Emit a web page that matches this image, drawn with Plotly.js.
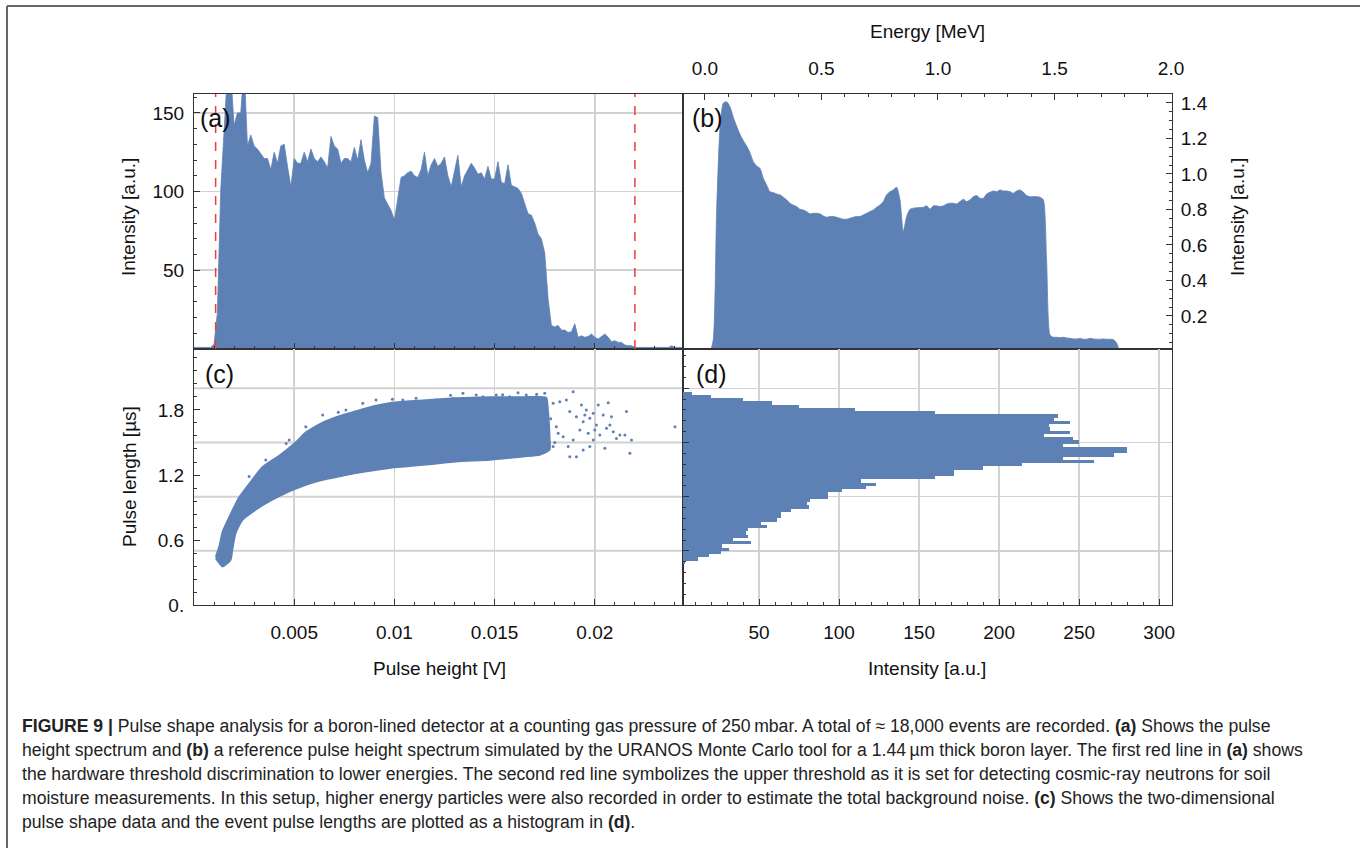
<!DOCTYPE html>
<html>
<head>
<meta charset="utf-8">
<script src="https://cdn.plot.ly/plotly-3.0.1.min.js"></script>
<style>html,body{margin:0;padding:0;background:#fff;}#chart{width:1360px;height:848px;}</style>
</head>
<body>
<div id="chart"></div>
<script>
// ---------- Panel (a): measured pulse height spectrum (uniform bins, x0/dx) ----------
const pulseHeightStart = 0;          // V
const pulseHeightStep = 0.00016667;  // V per bin
const spectrumA = [
  1,1,1,1,1,1,3,23,101,134,175,175,142,150,150,180,129,136,129,127,124,121,121,114,125,118,129,130,116,103,
  121,118,118,125,119,127,121,119,122,119,115,135,129,127,118,121,121,119,128,120,133,120,112,118,148,147,112,96,92,88,
  82,97,109,110,112,113,110,109,114,125,110,117,121,116,118,122,110,103,112,123,103,110,114,118,115,111,112,108,116,108,
  108,119,106,105,117,104,103,102,99,93,86,85,80,73,70,61,32,15,14,15,12,12,10.5,11,16,7.4,8.4,7.4,8,9.5,
  7.4,6.3,8,9.5,7.4,4.6,5.3,4.2,4.2,2.5,2.1,2.1,1,1,1,1,1,1,1,1,1,1,1,2,1,1,1
];
const thresholds = [0.00108, 0.022];

// ---------- Panel (b): simulated spectrum vs energy (uniform bins, x0/dx) ----------
const energyStart = -0.093;   // MeV
const energyStep = 0.014306;  // MeV per bin
const spectrumB = [
  0,0,0,0,0,0,0,0,0,0.065,0.778,1.248,1.398,1.406,1.379,1.319,1.270,1.223,1.188,1.158,
  1.120,1.069,1.045,1.032,0.976,0.938,0.900,0.895,0.887,0.882,0.869,0.854,0.835,0.824,0.816,0.801,0.797,0.788,0.775,0.778,
  0.778,0.775,0.763,0.756,0.760,0.760,0.756,0.750,0.745,0.745,0.750,0.756,0.760,0.760,0.769,0.778,0.788,0.797,0.812,0.825,
  0.844,0.882,0.900,0.910,0.925,0.854,0.675,0.760,0.801,0.807,0.809,0.811,0.812,0.820,0.801,0.820,0.820,0.816,0.820,0.831,
  0.835,0.835,0.831,0.844,0.857,0.844,0.854,0.872,0.878,0.863,0.863,0.887,0.897,0.904,0.900,0.910,0.904,0.904,0.900,0.891,
  0.904,0.910,0.897,0.878,0.872,0.872,0.872,0.869,0.854,0.497,0.093,0.080,0.080,0.078,0.080,0.076,0.074,0.071,0.071,0.073,
  0.069,0.069,0.074,0.071,0.069,0.069,0.071,0.069,0.069,0.067,0.047,0,0,0,0,0,0,0,0,0,
  0,0,0,0,0,0,0,0
];

// ---------- Panel (c): pulse shape cloud (envelope of the dense core + sparse events) ----------
const coreLowerX = [0.00108,0.00142,0.00183,0.00192,0.00208,0.00242,0.00308,0.00375,0.00475,0.00558,0.00642,0.00725,0.00808,0.00975,0.01142,0.01308,0.01475,0.01642,0.01725,0.01775];
const coreLowerY = [0.43,0.354,0.415,0.508,0.66,0.785,0.877,0.954,1.046,1.108,1.154,1.185,1.215,1.262,1.292,1.323,1.338,1.369,1.385,1.431];
const coreUpperX = [0.01775,0.01767,0.01758,0.01642,0.01475,0.01308,0.01142,0.01058,0.00975,0.00892,0.00808,0.00725,0.00642,0.00558,0.00508,0.00425,0.00342,0.00275,0.00225,0.00175,0.00142,0.00125,0.00108];
const coreUpperY = [1.554,1.80,1.915,1.92,1.92,1.91,1.89,1.88,1.865,1.835,1.79,1.745,1.685,1.595,1.505,1.38,1.275,1.12,0.995,0.812,0.676,0.538,0.446];
const sparseX = [0.01792,0.01825,0.01858,0.01892,0.01933,0.01958,0.01992,0.02017,0.02067,0.02042,0.01875,0.01908,0.01942,0.01975,0.02008,0.02075,0.02092,0.02108,0.02158,0.0215,0.02183,0.02175,0.0205,0.01992,0.01942,0.01908,0.01875,0.01808,0.01842,0.01892,0.01925,0.01967,0.02025,0.02058,0.024,0.01792,0.01817,0.01867,0.02,0.01975,0.02125,0.02083,0.0195,
  0.00842,0.00908,0.01042,0.01108,0.01208,0.01292,0.01342,0.01408,0.01442,0.01508,0.01575,0.01617,0.01658,0.01708,0.0175,0.00642,0.00758,0.00558,0.00475,0.00275,0.00358,
  0.0046,0.0072,0.0099,0.0128,0.0154,0.0171,0.0178,0.0180];
const sparseY = [1.862,1.877,1.892,1.969,1.846,1.80,1.769,1.846,1.868,1.754,1.785,1.738,1.692,1.723,1.662,1.662,1.60,1.538,1.785,1.569,1.523,1.40,1.446,1.523,1.431,1.369,1.369,1.646,1.554,1.523,1.615,1.585,1.569,1.631,1.646,1.462,1.585,1.462,1.615,1.462,1.569,1.738,1.754,
  1.862,1.892,1.892,1.908,1.892,1.908,1.954,1.938,1.923,1.938,1.923,1.960,1.938,1.923,1.954,1.754,1.80,1.646,1.523,1.185,1.338,
  1.49,1.78,1.90,1.935,1.94,1.945,1.72,1.50];

// ---------- Panel (d): pulse length histogram ----------
const lengthBins = [0.395,0.425,0.455,0.485,0.515,0.545,0.575,0.605,0.635,0.665,0.695,0.725,0.755,0.785,0.815,0.845,0.875,0.905,0.935,0.965,0.995,1.025,1.055,1.085,1.115,1.145,1.175,1.205,1.235,1.265,1.295,1.325,1.355,1.385,1.415,1.445,1.475,1.505,1.535,1.565,1.595,1.625,1.655,1.685,1.715,1.745,1.775,1.805,1.835,1.865,1.895,1.925,1.955];
const lengthCounts = [4,12,19,26,31,27,45,34,43,42,43,55,51,61,64,64,70,81,80,82,93,93,102,117,123,114,160,172,172,190,214,259,240,272,280,280,240,250,246,228,244,232,231,244,234,237,160,110,75,58,40,20,8];
const lengthBinWidth = 0.03;

const BLUE = '#5E81B5';
const GRID = '#d2d2d2';
const FRAME = '#333333';
const FONT = 'Liberation Sans, Arial, sans-serif';

// envelope polygon
const coreX = coreLowerX.concat(coreUpperX);
const coreY = coreLowerY.concat(coreUpperY);

const traces = [
  {type:'scatter', mode:'lines', x0:pulseHeightStart, dx:pulseHeightStep, y:spectrumA, xaxis:'x', yaxis:'y',
   fill:'tozeroy', fillcolor:BLUE, line:{color:BLUE, width:0.8}, hoverinfo:'skip'},
  {type:'scatter', mode:'lines', x0:energyStart, dx:energyStep, y:spectrumB, xaxis:'x2', yaxis:'y2',
   fill:'tozeroy', fillcolor:BLUE, line:{color:BLUE, width:0.8, shape:'spline', smoothing:0.6}, hoverinfo:'skip'},
  {type:'scatter', mode:'lines', x:coreX, y:coreY, xaxis:'x3', yaxis:'y3',
   fill:'toself', fillcolor:BLUE, line:{color:BLUE, width:1.5, shape:'spline', smoothing:0.5}, hoverinfo:'skip'},
  {type:'scatter', mode:'markers', x:sparseX, y:sparseY, xaxis:'x3', yaxis:'y3',
   marker:{color:BLUE, size:3}, hoverinfo:'skip'},
  {type:'bar', orientation:'h', y:lengthBins, x:lengthCounts, width:lengthBinWidth, xaxis:'x4', yaxis:'y4',
   marker:{color:BLUE, line:{width:0}}, hoverinfo:'skip'}
];

const L = 194/1360, M = 683/1360, R = 1172/1360;
const T = 1-94/848, MID = 1-349/848, B = 1-605/848;

function axBase(extra){
  return Object.assign({
    showline:true, mirror:true, linecolor:FRAME, linewidth:1,
    ticks:'inside', ticklen:6, tickcolor:FRAME, tickwidth:1,
    zeroline:false, gridcolor:GRID, gridwidth:1.6,
    tickfont:{family:FONT, size:19, color:'#111'},
    fixedrange:true
  }, extra);
}

const gridC = [0.5,1.0,1.5,2.0].map(v => ({type:'line', xref:'x3 domain', yref:'y3', x0:0, x1:1, y0:v, y1:v,
  line:{color:GRID, width:2}, layer:'below'}));

const shapes = [
  ...thresholds.map(v => ({type:'line', xref:'x', yref:'y domain', x0:v, x1:v, y0:0, y1:1,
    line:{color:'#ee3b3b', width:1.5, dash:'dash'}})),
  ...gridC,
  {type:'line', xref:'paper', yref:'paper', x0:7/1360, x1:1, y0:1-6/848, y1:1-6/848, line:{color:'#666', width:2}},
  {type:'line', xref:'paper', yref:'paper', x0:7/1360, x1:7/1360, y0:0, y1:1-6/848, line:{color:'#666', width:2}}
];

function ann(text, px, py, size, extra){
  return Object.assign({text:text, xref:'paper', yref:'paper', x:px/1360, y:1-py/848,
    showarrow:false, xanchor:'center', yanchor:'middle', font:{family:FONT, size:size, color:'#111'}}, extra||{});
}

const caption = [
  '<b>FIGURE 9 |</b> Pulse shape analysis for a boron-lined detector at a counting gas pressure of 250\u2009mbar. A total of \u2248 18,000 events are recorded. <b>(a)</b> Shows the pulse',
  'height spectrum and <b>(b)</b> a reference pulse height spectrum simulated by the URANOS Monte Carlo tool for a 1.44\u2009\u00b5m thick boron layer. The first red line in <b>(a)</b> shows',
  'the hardware threshold discrimination to lower energies. The second red line symbolizes the upper threshold as it is set for detecting cosmic-ray neutrons for soil',
  'moisture measurements. In this setup, higher energy particles were also recorded in order to estimate the total background noise. <b>(c)</b> Shows the two-dimensional',
  'pulse shape data and the event pulse lengths are plotted as a histogram in <b>(d)</b>.'
];

const annotations = [
  ann('(a)', 198, 118, 25, {xanchor:'left'}),
  ann('(b)', 690, 118, 25, {xanchor:'left'}),
  ann('(c)', 203, 374, 25, {xanchor:'left'}),
  ann('(d)', 694, 374, 25, {xanchor:'left'}),
  ann('Intensity [a.u.]', 128, 217, 19, {textangle:-90}),
  ann('Pulse length [\u00b5s]', 129, 477, 19, {textangle:-90}),
  ann('Intensity [a.u.]', 1237, 217, 19, {textangle:-90}),
  ann('Energy [MeV]', 927, 32, 19),
  ann('Pulse height [V]', 439, 668, 19),
  ann('Intensity [a.u.]', 927, 668, 19),
  ...caption.map((t,i) => ann(t, 20, 726 + 24*i, 17.6, {xanchor:'left', align:'left', font:{family:FONT, size:17.6, color:'#222'}}))
];

const layout = {
  width:1360, height:848, margin:{l:0, r:0, t:0, b:0},
  paper_bgcolor:'#fff', plot_bgcolor:'#fff', showlegend:false,
  xaxis: axBase({domain:[L,M], anchor:'y', range:[0,0.0244], tickvals:[0.005,0.01,0.015,0.02], showticklabels:false, showgrid:true,
    minor:{ticks:'inside', ticklen:3, dtick:0.001, tickcolor:FRAME, showgrid:false}}),
  yaxis: axBase({domain:[MID,T], anchor:'x', range:[0,162], tickvals:[50,100,150], showgrid:true, ticklabelstandoff:5,
    minor:{ticks:'inside', ticklen:3, dtick:10, tickcolor:FRAME, showgrid:false}}),
  xaxis2: axBase({domain:[M,R], anchor:'y2', side:'top', range:[-0.094,2.004], tickvals:[0,0.5,1,1.5,2], tickformat:'.1f', showgrid:false,
    ticklabelstandoff:10, minor:{ticks:'inside', ticklen:3, dtick:0.1, tickcolor:FRAME, showgrid:false}}),
  yaxis2: axBase({domain:[MID,T], anchor:'x2', side:'right', range:[0.014,1.45], tickvals:[0.2,0.4,0.6,0.8,1.0,1.2,1.4], tickformat:'.1f', showgrid:false,
    ticklabelstandoff:4, minor:{ticks:'inside', ticklen:3, dtick:0.05, tickcolor:FRAME, showgrid:false}}),
  xaxis3: axBase({domain:[L,M], anchor:'y3', range:[0,0.0244], tickvals:[0.005,0.01,0.015,0.02], ticktext:['0.005','0.01','0.015','0.02'], showgrid:true,
    ticklabelstandoff:10, minor:{ticks:'inside', ticklen:3, dtick:0.001, tickcolor:FRAME, showgrid:false}}),
  yaxis3: axBase({domain:[B,MID], anchor:'x3', range:[0,2.363], tickvals:[0,0.6,1.2,1.8], ticktext:['0.','0.6','1.2','1.8'], showgrid:false,
    ticklabelstandoff:5, minor:{ticks:'inside', ticklen:3, dtick:0.12, tickcolor:FRAME, showgrid:false}}),
  xaxis4: axBase({domain:[M,R], anchor:'y4', range:[2.5,308], tick0:0, dtick:50, showgrid:true,
    ticklabelstandoff:10, minor:{ticks:'inside', ticklen:3, dtick:10, tickcolor:FRAME, showgrid:false}}),
  yaxis4: axBase({domain:[B,MID], anchor:'x4', range:[0,2.363], tick0:0, dtick:0.5, showticklabels:false, showgrid:true,
    minor:{ticks:'inside', ticklen:3, dtick:0.1, tickcolor:FRAME, showgrid:false}}),
  bargap:0,
  shapes:shapes,
  annotations:annotations
};

Plotly.newPlot('chart', traces, layout, {displayModeBar:false, staticPlot:true});
</script>
</body>
</html>
